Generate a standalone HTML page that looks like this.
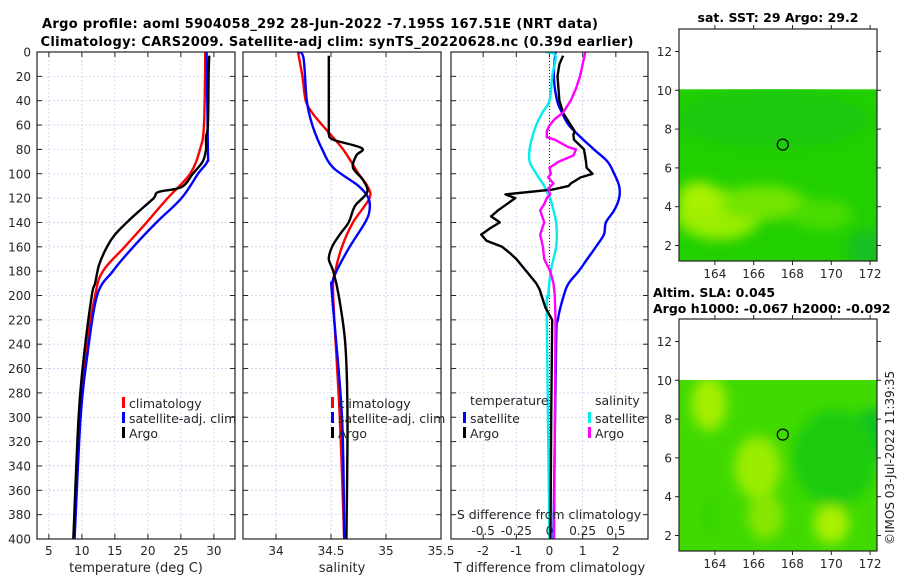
<!DOCTYPE html>
<html><head><meta charset="utf-8">
<style>
html,body{margin:0;padding:0;background:#fff;}
svg{display:block;font-family:"DejaVu Sans","Liberation Sans",sans-serif;}
</style></head>
<body>
<svg id="fig" width="900" height="580" viewBox="0 0 900 580" xmlns="http://www.w3.org/2000/svg">
<defs>
<filter id="blur6" x="-50%" y="-50%" width="200%" height="200%"><feGaussianBlur stdDeviation="6"/></filter>
<clipPath id="clipM1"><rect x="679" y="89" width="198" height="172"/></clipPath>
<clipPath id="clipM2"><rect x="679" y="380" width="198" height="171"/></clipPath>
<clipPath id="clipP1"><rect x="37" y="52" width="198" height="487"/></clipPath>
<clipPath id="clipP2"><rect x="243" y="52" width="198" height="487"/></clipPath>
<clipPath id="clipP3"><rect x="451" y="52" width="197" height="487"/></clipPath>
</defs>
<text x="320" y="28" text-anchor="middle" font-size="13" font-weight="bold" textLength="556">Argo profile: aoml 5904058_292 28-Jun-2022 -7.195S 167.51E (NRT data)</text>
<text x="337" y="46" text-anchor="middle" font-size="13" font-weight="bold" textLength="593">Climatology: CARS2009. Satellite-adj clim: synTS_20220628.nc (0.39d earlier)</text>
<g id="panels"></g>
<g id="maps"></g>
<text transform="translate(894,545) rotate(-90)" font-size="12" fill="#222">©IMOS 03-Jul-2022 11:39:35</text>
</svg>
<script>
// ---------------- data ----------------
const depthTicks = [0,20,40,60,80,100,120,140,160,180,200,220,240,260,280,300,320,340,360,380,400];
const tempTicks = [5,10,15,20,25,30];
const salTicks = [34,34.5,35,35.5];
const tdiffTicks = [-2,-1,0,1,2];
const sdiffTicks = [-0.5,-0.25,0,0.25,0.5];
const sdiffTickLabels = ['-0.5','-0.25','0','0.25','0.5'];

const climTdepth = [0,60,80,100,120,140,160,180,200,250,300,400];
const climT      = [28.7,28.5,27.9,26.4,23,19.8,16.5,13.2,12,10.5,9.7,8.8];
const satTdepth  = [0,80,90,100,120,140,160,180,200,250,300,400];
const satT       = [28.9,29.1,29,27.6,25.1,21.3,17.8,14.7,12.3,10.8,9.8,8.9];
const argoTdepth = [3,20,60,70,80,90,100,111,115,120,130,140,150,160,175,190,200,250,300,400];
const argoT      = [29.3,29.2,29.1,28.8,28.8,28.3,26.8,25.1,21.6,20.9,18.8,16.8,15,13.8,12.6,12,11.5,10.3,9.5,8.7];

const climSdepth = [0,20,40,50,60,80,100,110,120,140,160,180,200,300,400];
const climS      = [34.2,34.24,34.27,34.33,34.42,34.61,34.75,34.83,34.85,34.7,34.6,34.54,34.52,34.58,34.62];
const satSdepth  = [0,5,40,60,80,95,110,120,130,140,160,180,190,200,300,400];
const satS       = [34.2,34.25,34.28,34.33,34.42,34.52,34.75,34.84,34.85,34.81,34.67,34.55,34.51,34.51,34.6,34.62];
const argoSdepth = [3,60,67,72,79,85,95,105,115,125,130,140,150,160,170,180,200,240,300,400];
const argoS      = [34.48,34.48,34.48,34.52,34.78,34.73,34.7,34.79,34.83,34.73,34.7,34.66,34.58,34.51,34.48,34.52,34.57,34.63,34.65,34.64];

const dTsatDepth = [0,20,40,50,60,70,80,90,100,110,120,130,140,150,160,170,180,190,200,220,240,400];
const dTsat      = [0.18,0.13,0.23,0.38,0.58,0.94,1.34,1.75,1.95,2.1,2.1,1.95,1.7,1.64,1.4,1.14,0.88,0.58,0.43,0.25,0.2,0.12];
const dTargoDepth = [3,10,20,40,50,60,65,68,72,80,90,95,100,103,108,110,113,117,120,125,130,135,140,145,150,155,160,165,170,180,190,195,200,210,220,300,400];
const dTargo      = [0.41,0.3,0.24,0.3,0.41,0.64,0.76,0.72,0.74,1.04,1.1,1.12,1.3,0.94,0.64,0.58,0.09,-1.33,-1.03,-1.29,-1.55,-1.76,-1.5,-1.8,-2.06,-1.9,-1.43,-1.2,-1.0,-0.7,-0.4,-0.3,-0.24,-0.12,0.08,0.05,0.03];
const dSsatDepth = [0,3,20,40,50,60,70,80,90,100,110,115,120,130,140,150,160,170,180,200,220,400];
const dSsat      = [-0.03,0.045,0.02,0,-0.055,-0.1,-0.13,-0.15,-0.15,-0.1,-0.04,-0.02,0.005,0.03,0.05,0.055,0.05,0.03,0.01,-0.01,-0.02,0];
const dSargoDepth = [0,10,20,30,40,50,55,60,65,70,72,78,80,85,90,95,100,103,108,112,117,120,125,130,140,150,160,170,180,190,200,220,400];
const dSargo      = [0.27,0.25,0.23,0.2,0.16,0.1,0.04,0.002,-0.02,-0.02,0.04,0.14,0.2,0.18,0.07,0,0.01,-0.01,0.03,-0.01,0.005,-0.02,-0.04,-0.07,-0.04,-0.07,-0.05,-0.04,0.005,0.03,0.04,0.045,0.035];

const mapLonTicks = [164,166,168,170,172];
const mapLatTicks = [2,4,6,8,10,12];
const argoLon = 167.5, argoLat = 7.2;

// ---------------- helpers ----------------
const NS = 'http://www.w3.org/2000/svg';
function mk(tag, attrs, parent){ const e=document.createElementNS(NS,tag); for(const k in attrs) e.setAttribute(k,attrs[k]); if(parent) parent.appendChild(e); return e; }
function txt(s, attrs, parent){ const e=mk('text',attrs,parent); e.textContent=s; return e; }
const panels = document.getElementById('panels');
const TOP=52, BOT=539;
const yD = d => TOP + d*(BOT-TOP)/400;

function panel(name, x0, x1, vmin, vmax, ticks, tickLabels, xlabel, clip){
  const g = mk('g',{},panels);
  
  
  const sx = v => x0 + (v - vmin)*(x1-x0)/(vmax-vmin);
  depthTicks.forEach(d=>{ if(d>0&&d<400) mk('line',{x1:x0,x2:x1,y1:yD(d),y2:yD(d),stroke:'#c9d0ee','stroke-width':0.8,'stroke-dasharray':'2,2'},g); });
  ticks.forEach(t=>{ const x=sx(t); if(x>x0+1&&x<x1-1) mk('line',{x1:x,x2:x,y1:TOP,y2:BOT,stroke:'#c9d0ee','stroke-width':0.8,'stroke-dasharray':'2,2'},g); });
  depthTicks.forEach(d=>{ mk('line',{x1:x0,x2:x0+5,y1:yD(d),y2:yD(d),stroke:'#222'},g); mk('line',{x1:x1-5,x2:x1,y1:yD(d),y2:yD(d),stroke:'#222'},g); });
  ticks.forEach((t,i)=>{ const x=sx(t);
    mk('line',{x1:x,x2:x,y1:BOT,y2:BOT-5,stroke:'#222'},g); mk('line',{x1:x,x2:x,y1:TOP,y2:TOP+5,stroke:'#222'},g);
    const lab = txt(tickLabels[i],{x:x,y:555,'text-anchor':'middle','font-size':12,fill:'#262626'},g);
    
    
  });
  const xl = txt(xlabel,{x:(x0+x1)/2,y:572,'text-anchor':'middle','font-size':13,fill:'#262626'},g);
  
  
  const lines = mk('g',{'clip-path':'url(#'+clip+')'},g);
  return {g, sx, lines, x0, x1};
}
function smoothPath(P){
  let d='M'+P[0][0].toFixed(1)+','+P[0][1].toFixed(1);
  for(let i=0;i<P.length-1;i++){
    const p0=P[Math.max(0,i-1)],p1=P[i],p2=P[i+1],p3=P[Math.min(P.length-1,i+2)];
    const c1x=p1[0]+(p2[0]-p0[0])/6,c1y=p1[1]+(p2[1]-p0[1])/6;
    const c2x=p2[0]-(p3[0]-p1[0])/6,c2y=p2[1]-(p3[1]-p1[1])/6;
    d+=' C'+c1x.toFixed(1)+','+c1y.toFixed(1)+' '+c2x.toFixed(1)+','+c2y.toFixed(1)+' '+p2[0].toFixed(1)+','+p2[1].toFixed(1);
  }
  return d;
}
function series(p, depths, vals, color, name, sx, smooth){
  const f = sx || p.sx;
  const P = depths.map((d,i)=>[f(vals[i]), yD(d)]);
  let el;
  if(smooth) el = mk('path',{d:smoothPath(P),fill:'none',stroke:color,'stroke-width':2.4,'stroke-linejoin':'round'},p.lines);
  else el = mk('polyline',{points:P.map(q=>q[0].toFixed(1)+','+q[1].toFixed(1)).join(' '),fill:'none',stroke:color,'stroke-width':2.4,'stroke-linejoin':'round'},p.lines);
  
  
}
function frame(p){ mk('rect',{x:p.x0,y:TOP,width:p.x1-p.x0,height:BOT-TOP,fill:'none',stroke:'#222','stroke-width':1.2},p.g); }
function legendEntry(g, x, y, color, label, name){
  mk('rect',{x:x,y:y-7,width:3,height:11,fill:color},g);
  const t = txt(label,{x:x+7,y:y+4,'font-size':12.5,fill:'#262626'},g);
  
  
}

// panel 1 temperature
const p1 = panel('temperature-panel',37,235,3.2,33.2,tempTicks,tempTicks.map(String),'temperature (deg C)','clipP1');
depthTicks.forEach(d=>{ const l=txt(String(d),{x:31,y:yD(d)+4.5,'text-anchor':'end','font-size':12,fill:'#262626'},p1.g);
  
   });
series(p1, climTdepth, climT, '#ff0000', 'climatology-temperature-line', null, true);
series(p1, satTdepth, satT, '#0000ff', 'satellite-temperature-line', null, true);
series(p1, argoTdepth, argoT, '#000000', 'argo-temperature-line', null, true);
frame(p1);
legendEntry(p1.g,122,404,'#ff0000','climatology','legend-climatology');
legendEntry(p1.g,122,419,'#0000ff','satellite-adj. clim','legend-satellite');
legendEntry(p1.g,122,434,'#000000','Argo','legend-argo');

// panel 2 salinity
const p2 = panel('salinity-panel',243,441,33.7,35.5,salTicks,['34','34.5','35','35.5'],'salinity','clipP2');
series(p2, climSdepth, climS, '#ff0000', 'climatology-salinity-line', null, true);
series(p2, satSdepth, satS, '#0000ff', 'satellite-salinity-line', null, true);
series(p2, argoSdepth, argoS, '#000000', 'argo-salinity-line', null, true);
frame(p2);
legendEntry(p2.g,331,404,'#ff0000','climatology','legend-climatology-2');
legendEntry(p2.g,331,419,'#0000ff','satellite-adj. clim','legend-satellite-2');
legendEntry(p2.g,331,434,'#000000','Argo','legend-argo-2');

// panel 3 differences
const p3 = panel('difference-panel',451,648,-2.97,2.97,tdiffTicks,tdiffTicks.map(String),'T difference from climatology','clipP3');
const sxS = s => p3.sx(s*4);
mk('line',{x1:p3.sx(0),x2:p3.sx(0),y1:TOP,y2:BOT,stroke:'#333','stroke-width':1,'stroke-dasharray':'1,2'},p3.lines);
series(p3, dTsatDepth, dTsat, '#0000ff', 'satellite-t-difference-line', null, true);
series(p3, dSsatDepth, dSsat, '#00eeee', 'satellite-s-difference-line', sxS, true);
series(p3, dTargoDepth, dTargo, '#000000', 'argo-t-difference-line', null, false);
series(p3, dSargoDepth, dSargo, '#ff00ff', 'argo-s-difference-line', sxS, false);
frame(p3);
const st = txt('S difference from climatology',{x:549,y:519,'text-anchor':'middle','font-size':12.5,fill:'#262626'},p3.g);


sdiffTicks.forEach((s,i)=>{ const l=txt(sdiffTickLabels[i],{x:sxS(s),y:535,'text-anchor':'middle','font-size':12,fill:'#262626'},p3.g);
  
   });
const lt = txt('temperature',{x:470,y:405,'font-size':12.5,fill:'#262626'},p3.g);


const ls = txt('salinity',{x:595,y:405,'font-size':12.5,fill:'#262626'},p3.g);


legendEntry(p3.g,463,419,'#0000ff','satellite','legend-t-satellite');
legendEntry(p3.g,463,434,'#000000','Argo','legend-t-argo');
legendEntry(p3.g,588,419,'#00eeee','satellite','legend-s-satellite');
legendEntry(p3.g,588,434,'#ff00ff','Argo','legend-s-argo');

// ---------------- maps ----------------
const maps = document.getElementById('maps');
function map(name, top, title, clip, blobs, base){
  const g = mk('g',{},maps);
  
  
  const x0=679,x1=877,y0=top,y1=top+232;
  const lx = lon => x0 + (lon-162.15)*19.4;
  const ly = lat => y1 - (lat-1.2)*19.4;
  const field = mk('g',{'clip-path':'url(#'+clip+')'},g);
  mk('rect',{x:x0,y:ly(10.05),width:x1-x0,height:y1-ly(10.05),fill:base},field);
  const bl = mk('g',{filter:'url(#blur6)'},field);
  blobs.forEach(b=>mk('ellipse',{cx:lx(b[0]),cy:ly(b[1]),rx:b[2]*19.4,ry:b[3]*19.4,fill:b[4]},bl));
  mk('rect',{x:x0,y:y0,width:x1-x0,height:y1-y0,fill:'none',stroke:'#222','stroke-width':1.2},g);
  mapLonTicks.forEach(l=>{ const x=lx(l);
    mk('line',{x1:x,x2:x,y1:y1,y2:y1+4,stroke:'#222'},g); mk('line',{x1:x,x2:x,y1:y0,y2:y0-4,stroke:'#222'},g);
    const t=txt(String(l),{x:x,y:y1+17,'text-anchor':'middle','font-size':12,fill:'#262626'},g);
    
     });
  mapLatTicks.forEach(l=>{ const y=ly(l);
    mk('line',{x1:x0,x2:x0-4,y1:y,y2:y,stroke:'#222'},g); mk('line',{x1:x1,x2:x1+4,y1:y,y2:y,stroke:'#222'},g);
    const t=txt(String(l),{x:x0-7,y:y+4.5,'text-anchor':'end','font-size':12,fill:'#262626'},g);
    
     });
  const c = mk('circle',{cx:lx(argoLon),cy:ly(argoLat),r:5.5,fill:'none',stroke:'#000','stroke-width':1.2},g);
  
  
  title.forEach(t=>{ const e=txt(t[0],{x:t[1],y:t[2],'text-anchor':t[3],'font-size':12.5,'font-weight':'bold'},g);
    
     });
}
map('sst-map',29,[['sat. SST: 29 Argo: 29.2',778,22,'middle']],'clipM1',[
  [164.2,3.6,2.2,1.3,'#9aee00'],[166.5,4.2,2.2,0.9,'#72e400'],[163.2,4.4,1.1,0.9,'#a8f000'],
  [169.5,3.6,1.6,0.8,'#48dc00'],[172,1.8,1.2,1.0,'#14c020'],[167,8.5,5,1.5,'#1ec808']
],'#22d000');
map('sla-map',319,[['Altim. SLA: 0.045',653,297,'start'],['Argo h1000: -0.067 h2000: -0.092',653,313,'start']],'clipM2',[
  [163.7,8.8,0.9,1.4,'#a4ee00'],[166.2,5.5,1.2,1.6,'#9aec00'],[166.6,3,0.9,1.2,'#88e600'],
  [170,2.6,0.9,1.0,'#aaf000'],[172.2,7.2,1.2,1.3,'#10c028'],[170.2,6,2.2,2.5,'#1ccc10'],[163.8,3,0.5,1.2,'#38d400']
],'#40da00');
</script>
</body></html>
